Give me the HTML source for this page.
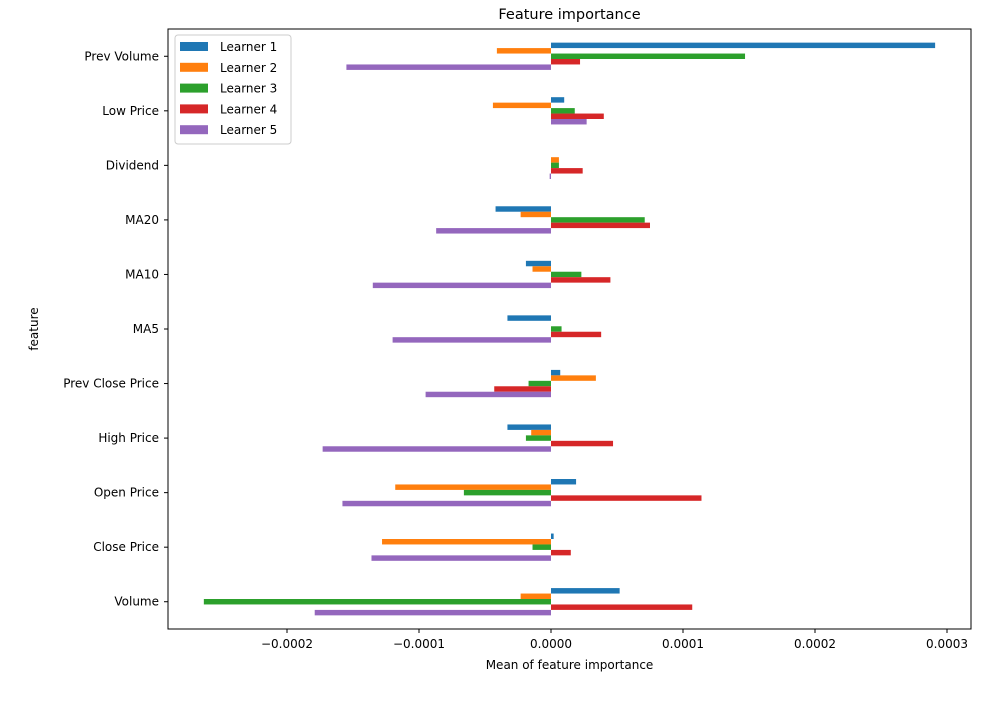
<!DOCTYPE html>
<html><head><meta charset="utf-8">
<style>
body{margin:0;background:#fff;font-family:"Liberation Sans","DejaVu Sans",sans-serif;}
svg text{font-family:"DejaVu Sans","Liberation Sans",sans-serif;}
</style></head>
<body>
<svg id="chart" width="1000" height="700" xmlns="http://www.w3.org/2000/svg"></svg>
<script>
const categories = ["Prev Volume","Low Price","Dividend","MA20","MA10","MA5","Prev Close Price","High Price","Open Price","Close Price","Volume"];
const seriesNames = ["Learner 1","Learner 2","Learner 3","Learner 4","Learner 5"];
const learner1 = [2.91e-4,0.10e-4,0.00e-4,-0.42e-4,-0.19e-4,-0.33e-4,0.07e-4,-0.33e-4,0.19e-4,0.02e-4,0.52e-4];
const learner2 = [-0.41e-4,-0.44e-4,0.06e-4,-0.23e-4,-0.14e-4,0.00e-4,0.34e-4,-0.15e-4,-1.18e-4,-1.28e-4,-0.23e-4];
const learner3 = [1.47e-4,0.18e-4,0.06e-4,0.71e-4,0.23e-4,0.08e-4,-0.17e-4,-0.19e-4,-0.66e-4,-0.14e-4,-2.63e-4];
const learner4 = [0.22e-4,0.40e-4,0.24e-4,0.75e-4,0.45e-4,0.38e-4,-0.43e-4,0.47e-4,1.14e-4,0.15e-4,1.07e-4];
const learner5 = [-1.55e-4,0.27e-4,-0.01e-4,-0.87e-4,-1.35e-4,-1.20e-4,-0.95e-4,-1.73e-4,-1.58e-4,-1.36e-4,-1.79e-4];
const xTicks = [-0.0002,-0.0001,0,0.0001,0.0002,0.0003];
const xTickLabels = ["\u22120.0002","\u22120.0001","0.0000","0.0001","0.0002","0.0003"];

const series=[learner1,learner2,learner3,learner4,learner5];
const colors=["#1f77b4","#ff7f0e","#2ca02c","#d62728","#9467bd"];
const L=168,R=971,T=29,B=629;
const svg=document.getElementById('chart');
const NS="http://www.w3.org/2000/svg";
function xs(v){return 551+v/0.0001*132;}
const step=(B-T)/categories.length;
function ys(i){return T+step*(i+0.5);}
function mk(tag,attrs,parent){const e=document.createElementNS(NS,tag);for(const k in attrs)e.setAttribute(k,attrs[k]);(parent||svg).appendChild(e);return e;}

const bars=mk('g',{});


const bh=step*0.1;
series.forEach((s,si)=>{
  s.forEach((v,ci)=>{
    const cy=ys(ci)+(si-2)*bh;
    const x0=xs(0),x1=xs(v);
    const r=mk('rect',{x:Math.min(x0,x1),y:cy-bh/2,width:Math.abs(x1-x0),height:bh,fill:colors[si]},bars);
    
    
  });
});
const frame=mk('rect',{x:L,y:T,width:R-L,height:B-T,fill:'none',stroke:'#000','stroke-width':1});



xTicks.forEach((t,i)=>{
  const x=xs(t);
  mk('line',{x1:x,x2:x,y1:B,y2:B+4,stroke:'#000'});
  const tx=mk('text',{x:x,y:B+19,'text-anchor':'middle','font-size':12});
  tx.textContent=xTickLabels[i];
  
  
});
categories.forEach((c,i)=>{
  const y=ys(i);
  mk('line',{x1:L-4,x2:L,y1:y,y2:y,stroke:'#000'});
  const tx=mk('text',{x:L-9,y:y+4,'text-anchor':'end','font-size':12});
  tx.textContent=c;
  
  
});
const title=mk('text',{x:(L+R)/2,y:19,'text-anchor':'middle','font-size':14.5});
title.textContent="Feature importance";


const xl=mk('text',{x:(L+R)/2,y:669,'text-anchor':'middle','font-size':12});
xl.textContent="Mean of feature importance";


const yl=mk('text',{x:38,y:329,'text-anchor':'middle','font-size':12,transform:'rotate(-90 38 329)'});
yl.textContent="feature";



const lg=mk('g',{});


mk('rect',{x:175,y:35,width:116,height:109,rx:3,fill:'#fff','fill-opacity':0.8,stroke:'#ccc'},lg);
seriesNames.forEach((n,i)=>{
  const y=46+i*20.8;
  const sw=mk('rect',{x:180,y:y-4,width:28,height:9,fill:colors[i]},lg);
  
  
  const t=mk('text',{x:220,y:y+5,'font-size':12},lg);
  t.textContent=n;
  
  
});
</script>
</body></html>
